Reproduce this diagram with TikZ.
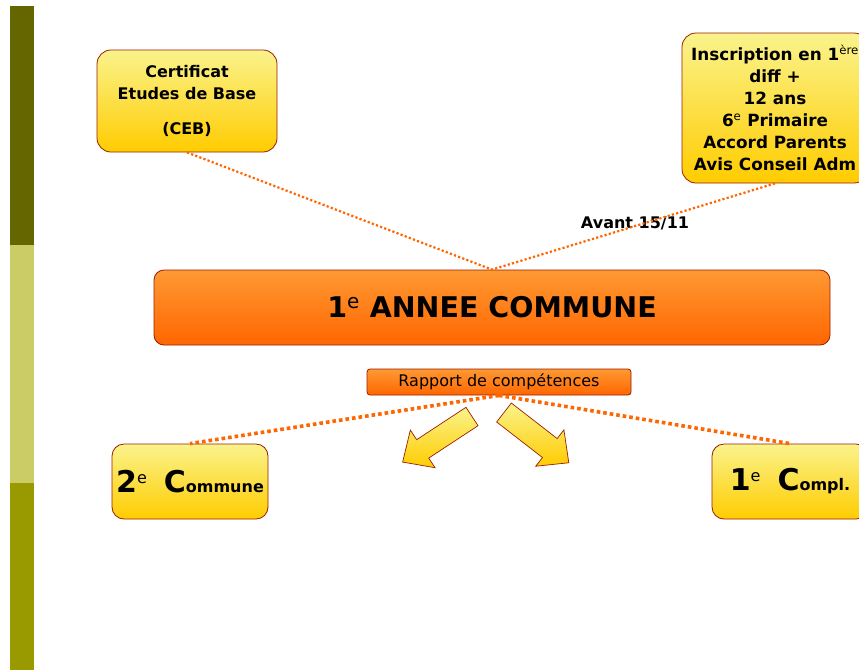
\documentclass[tikz,border=0pt]{standalone}
\usepackage{fontspec}
\setmainfont{DejaVu Sans}
\definecolor{bdr}{RGB}{153,30,0}
\definecolor{yTop}{RGB}{250,243,140}
\definecolor{yBot}{RGB}{255,204,0}
\definecolor{oTop}{RGB}{255,153,51}
\definecolor{oBot}{RGB}{255,102,0}
\definecolor{dotc}{RGB}{255,102,0}
\definecolor{barA}{RGB}{102,102,0}
\definecolor{barB}{RGB}{204,204,102}
\definecolor{barC}{RGB}{153,153,0}
\tikzset{
  ybox/.style={draw=bdr, line width=0.8pt, rounded corners=14pt, top color=yTop, bottom color=yBot, inner sep=0pt, align=center, font=\fontsize{16}{22}\selectfont\bfseries},
  obox/.style={draw=bdr, line width=0.8pt, top color=oTop, bottom color=oBot, inner sep=0pt, align=center},
  dotline/.style={draw=dotc, line width=2.2pt, dash pattern=on 2.2pt off 2.2pt},
  dotthick/.style={draw=dotc, line width=3.6pt, dash pattern=on 3.6pt off 3pt},
  blockarrow/.style={draw=bdr, line width=0.7pt, top color=yTop, bottom color=yBot, line join=miter},
}
\begin{document}
\begin{tikzpicture}[x=1pt,y=-1pt]
\useasboundingbox (0,0) rectangle (859,670);
\clip (0,0) rectangle (859,670);
\fill[white] (0,0) rectangle (859,670);
% left bar
\fill[barA] (10,6) rectangle (34,245);
\fill[barB] (10,245) rectangle (34,483);
\fill[barC] (10,483) rectangle (34,670);

% boxes
\node[ybox, minimum width=180pt, minimum height=102pt] (ceb) at (187,101)
  {Certificat\\Etudes de Base\\[13pt](CEB)};
\node[ybox, minimum width=186pt, minimum height=150pt, font=\fontsize{16.8}{22}\selectfont\bfseries] (insc) at (775,108)
  {Inscription en 1\textsuperscript{\mdseries ère}\\diff +\\12 ans\\6\textsuperscript{\mdseries e} Primaire\\Accord Parents\\Avis Conseil Adm};
\node[obox, rounded corners=10pt, minimum width=676pt, minimum height=75pt,
  font=\fontsize{28.5}{30}\selectfont\bfseries] (main) at (492,307.5)
  {1\textsuperscript{\mdseries e} ANNEE COMMUNE};
\node[obox, rounded corners=3pt, minimum width=264pt, minimum height=26pt,
  font=\fontsize{16}{18}\selectfont] (rapp) at (499,382) {Rapport de compétences};
\node[ybox, rounded corners=12pt, minimum width=156pt, minimum height=75pt] (c2) at (190,481.5)
  {\fontsize{30}{30}\selectfont 2\raisebox{9pt}{\fontsize{16}{16}\selectfont\mdseries e}\hspace{17pt}C{\fontsize{16}{16}\selectfont ommune}};
\node[ybox, rounded corners=12pt, minimum width=156pt, minimum height=75pt] (c1) at (790,481.5)
  {\fontsize{30}{30}\selectfont 1\raisebox{9pt}{\fontsize{16}{16}\selectfont\mdseries e}\hspace{17pt}C{\fontsize{16}{16}\selectfont ompl.}};

\node[font=\fontsize{16}{16}\selectfont\bfseries] (avant) at (635,223) {Avant 15/11};

% dotted connectors
\draw[dotline] (ceb.south) -- (main.north);
\draw[dotline] (insc.south) -- (main.north);
\draw[dotthick] (rapp.south) -- (c2.north);
\draw[dotthick] (rapp.south) -- (c1.north);

% block arrows
\begin{scope}[shift={(472,416.5)}, rotate=213.3]
  \path[blockarrow] (0,-11) -- (59,-11) -- (59,-22.5) -- (83,0) -- (59,22.5) -- (59,11) -- (0,11) -- cycle;
\end{scope}
\begin{scope}[shift={(504,412.5)}, rotate=-37.8]
  \path[blockarrow] (0,-12) -- (58,-12) -- (58,-23) -- (82,0) -- (58,23) -- (58,12) -- (0,12) -- cycle;
\end{scope}
\end{tikzpicture}
\end{document}
